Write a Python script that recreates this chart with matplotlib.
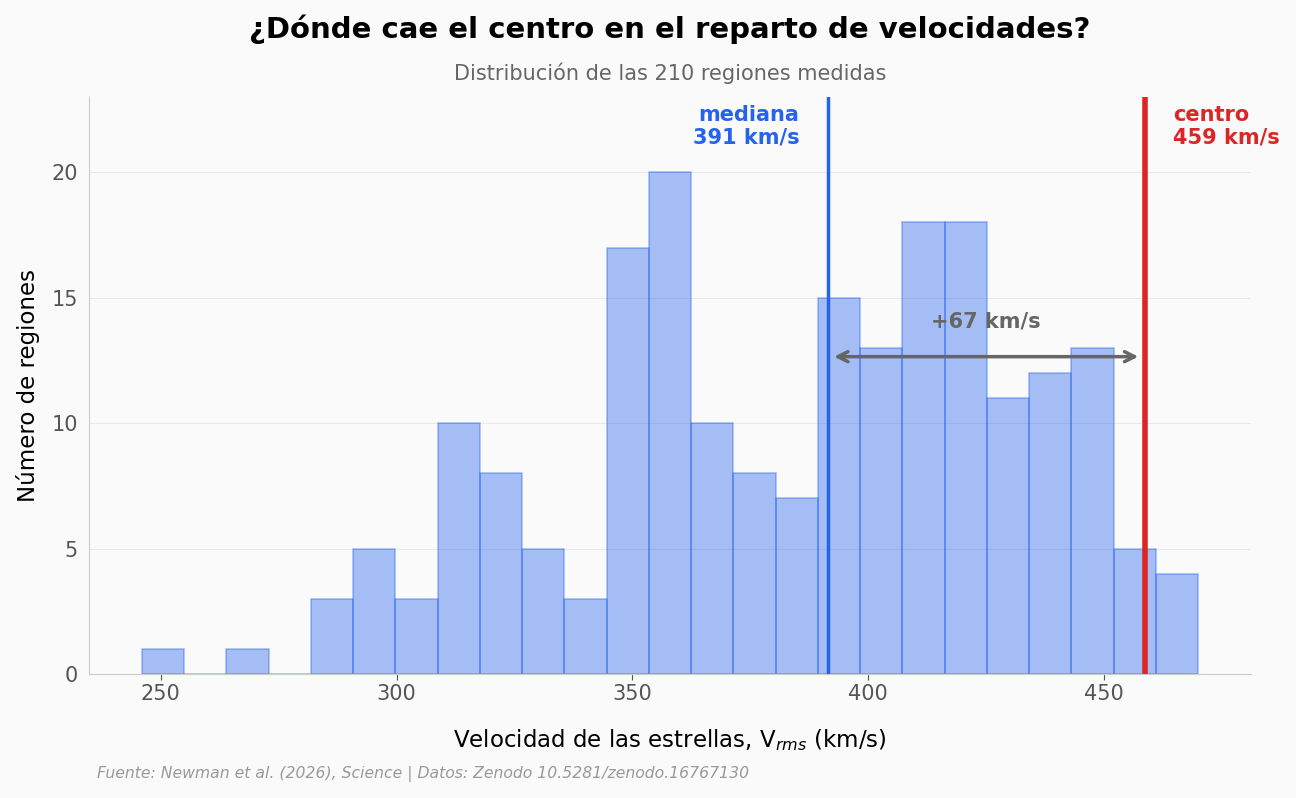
import numpy as np
import matplotlib.pyplot as plt

# conteo por intervalo de velocidad (km/s)
bin_lo = 246.0
bin_hi = 470.0
counts = [1, 0, 1, 0, 3, 5, 3, 10, 8, 5, 3, 17, 20, 10, 8, 7, 15, 13, 18, 18, 11, 12, 13, 5, 4]
mediana = 391.4
centro = 458.7

edges = np.linspace(bin_lo, bin_hi, len(counts) + 1)

bg = '#fafafa'
fig = plt.figure(figsize=(12.96, 7.98), dpi=100, facecolor=bg)
ax = fig.add_axes([0.0687, 0.1554, 0.8966, 0.723])
ax.set_facecolor(bg)

ax.bar(edges[:-1], counts, width=np.diff(edges), align='edge',
       color='#2563eb', alpha=0.4, edgecolor='#2563eb', linewidth=1.2, zorder=2)

ax.axvline(mediana, color='#2563eb', lw=2.5, zorder=3)
ax.axvline(centro, color='#dc2626', lw=4, zorder=3)

ax.text(mediana - 6, 22.7, f'mediana\n{mediana:.0f} km/s', ha='right', va='top',
        color='#2563eb', fontsize=15, fontweight='bold', linespacing=1.2)
ax.text(centro + 6, 22.7, f'centro\n{centro:.0f} km/s', ha='left', va='top',
        color='#dc2626', fontsize=15, fontweight='bold', linespacing=1.2)

ax.annotate('', xy=(centro - 0.8, 12.65), xytext=(mediana + 0.8, 12.65),
            arrowprops=dict(arrowstyle='<->', color='#666666', lw=2.5,
                            mutation_scale=18), zorder=4)
ax.text((mediana + centro) / 2, 14.05, f'+{centro - mediana:.0f} km/s', ha='center', va='center',
        color='#666666', fontsize=15, fontweight='bold', zorder=4)

ax.set_xlim(234.8, 481.2)
ax.set_ylim(0, 23)
ax.set_yticks([0, 5, 10, 15, 20])
ax.set_xticks([250, 300, 350, 400, 450])
ax.grid(axis='y', color='#e8e8e8', lw=0.8, zorder=0)
ax.set_axisbelow(True)
for s in ['top', 'right']:
    ax.spines[s].set_visible(False)
for s in ['left', 'bottom']:
    ax.spines[s].set_color('#cccccc')
ax.tick_params(axis='both', labelsize=15, colors='#555555')
ax.tick_params(axis='y', length=0, pad=8)
ax.tick_params(axis='x', color='#555555', length=4)

ax.set_xlabel('Velocidad de las estrellas, V$_{rms}$ (km/s)', fontsize=16.5, labelpad=16)
ax.set_ylabel('Número de regiones', fontsize=16.5, labelpad=8)

fig.text(0.517, 0.963, '¿Dónde cae el centro en el reparto de velocidades?',
         ha='center', va='center', fontsize=21, fontweight='bold')
fig.text(0.517, 0.908, 'Distribución de las 210 regiones medidas',
         ha='center', va='center', fontsize=15, color='#666666')
fig.text(0.075, 0.030, 'Fuente: Newman et al. (2026), Science | Datos: Zenodo 10.5281/zenodo.16767130',
         ha='left', va='center', fontsize=11.25, style='italic', color='#999999')

fig.savefig('out.png', dpi=100, facecolor=bg)
